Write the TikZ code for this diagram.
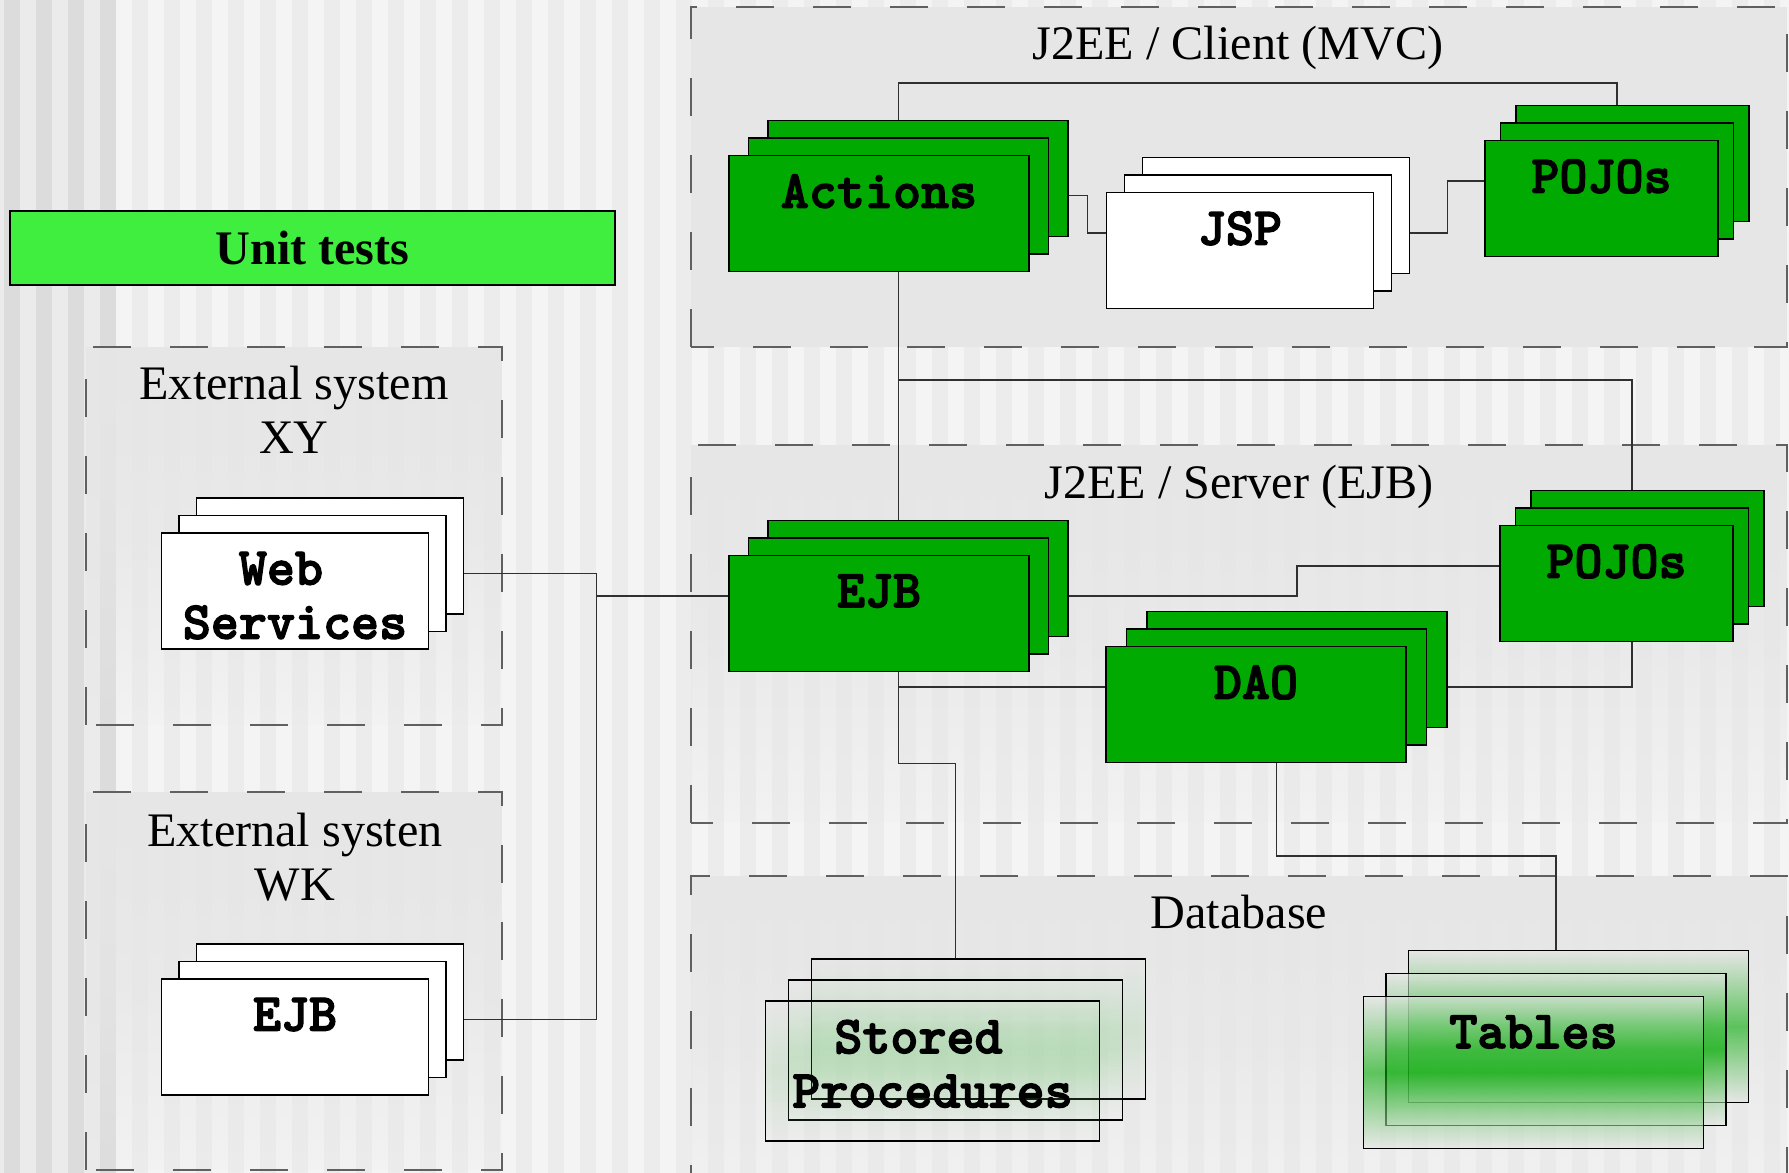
\documentclass[tikz,border=0pt]{standalone}
\usepackage{fontspec}
\setmainfont{Liberation Serif}
\newfontfamily\lblfont{lmmonolt10-bold.otf}[FakeBold=2.5]
\usetikzlibrary{calc,positioning,backgrounds,fadings}
\definecolor{boxgreen}{HTML}{00AA00}
\definecolor{unitgreen}{HTML}{40EE40}
\definecolor{panelgray}{HTML}{E6E6E6}
\definecolor{panelline}{HTML}{606060}
\definecolor{linkgray}{HTML}{303030}
\definecolor{stripea}{HTML}{F4F4F4}
\definecolor{stripeb}{HTML}{ECECEC}
\definecolor{stripec}{HTML}{EBEBEB}
\definecolor{striped}{HTML}{DCDCDC}
\tikzfading[name=panelfade, top color=transparent!0, bottom color=transparent!90, middle color=transparent!25]

\begin{document}
\begin{tikzpicture}[
	gbox/.style={draw, fill=boxgreen, minimum width=3cm, minimum height=1.16cm, inner sep=0},
	wbox/.style={gbox, fill=white},
	sbox/.style={draw, top color=panelgray, bottom color=panelgray, middle color=boxgreen, fill opacity=0.09, minimum width=3.34cm, minimum height=1.4cm, inner sep=0},
	tbox/.style={sbox, fill opacity=0.6, minimum width=3.4cm, minimum height=1.52cm},
	lbl/.style={font=\fontsize{15.2}{15.4}\selectfont\lblfont, align=center, inner sep=0},
	title/.style={font=\fontsize{13.7}{15.2}\selectfont, align=center, inner sep=0},
	unit/.style={draw, fill=unitgreen, minimum width=6.05cm, minimum height=0.74cm, font=\fontsize{13.7}{15.2}\selectfont\bfseries},
	panel/.style={draw=panelline, line width=0.45pt, dash pattern=on 0.38cm off 0.39cm},
	link/.style={draw=linkgray, line width=0.3pt}]
	\tikzset{every path/.style={line width=0.4pt}}
	\useasboundingbox (0,0) rectangle (17.89,11.73);

	\node [title] (mvct) at (12.38,11.25) {J2EE / Client (MVC)};
	\node [title] (ejbt) at (12.39,6.86) {J2EE / Server (EJB)};
	\node [title] (dbt) at (12.39,2.61) {Database};
	\node [title] (xyt) at (2.94,7.63) {External system\\XY};
	\node [title] (wkt) at (2.95,3.16) {External systen\\WK};
	\node [unit] (unit) at (3.125,9.25) {Unit tests};

	\node [gbox] (actionsb) at (9.18,9.945) {};
	\node [gbox] (actions) at ($(actionsb)+(-0.195,-0.175)$) {};
	\node [gbox] (actionsf) at ($(actions)+(-0.195,-0.175)$) {};
	\node [lbl, below=0.19cm of actionsf.north] (actionsl) {Actions};

	\node [wbox, minimum width=2.67cm] (jspb) at (12.76,9.575) {};
	\node [wbox, minimum width=2.67cm] (jsp) at ($(jspb)+(-0.18,-0.175)$) {};
	\node [wbox, minimum width=2.67cm] (jspf) at ($(jsp)+(-0.18,-0.175)$) {};
	\node [lbl, below=0.19cm of jspf.north] (jspl) {JSP};

	\node [gbox, minimum width=2.33cm] (pojocb) at (16.325,10.095) {};
	\node [gbox, minimum width=2.33cm] (pojoc) at ($(pojocb)+(-0.155,-0.175)$) {};
	\node [gbox, minimum width=2.33cm] (pojocf) at ($(pojoc)+(-0.155,-0.175)$) {};
	\node [lbl, below=0.19cm of pojocf.north] (pojocl) {POJOs};

	\node [gbox] (ejbb) at (9.18,5.945) {};
	\node [gbox] (ejb) at ($(ejbb)+(-0.195,-0.175)$) {};
	\node [gbox] (ejbf) at ($(ejb)+(-0.195,-0.175)$) {};
	\node [lbl, below=0.19cm of ejbf.north] (ejbl) {EJB};

	\node [gbox, minimum width=2.33cm] (pojosb) at (16.475,6.245) {};
	\node [gbox, minimum width=2.33cm] (pojos) at ($(pojosb)+(-0.155,-0.175)$) {};
	\node [gbox, minimum width=2.33cm] (pojosf) at ($(pojos)+(-0.155,-0.175)$) {};
	\node [lbl, below=0.19cm of pojosf.north] (pojosl) {POJOs};

	\node [gbox] (daob) at (12.97,5.035) {};
	\node [gbox] (dao) at ($(daob)+(-0.205,-0.175)$) {};
	\node [gbox] (daof) at ($(dao)+(-0.205,-0.175)$) {};
	\node [lbl, below=0.19cm of daof.north] (daol) {DAO};

	\node [sbox] (storedb) at (9.785,1.44) {};
	\node [sbox] (stored) at ($(storedb)+(-0.23,-0.21)$) {};
	\node [sbox] (storedf) at ($(stored)+(-0.23,-0.21)$) {};
	\node [lbl, below=0.19cm of storedf.north] (storedl) {Stored\hphantom{x}\\Procedures};

	\node [tbox] (tablesb) at (15.785,1.465) {};
	\node [tbox] (tables) at ($(tablesb)+(-0.225,-0.23)$) {};
	\node [tbox] (tablesf) at ($(tables)+(-0.225,-0.23)$) {};
	\node [lbl, below=0.19cm of tablesf.north] (tablesl) {Tables};

	\node [wbox, minimum width=2.67cm] (websvcb) at (3.30,6.17) {};
	\node [wbox, minimum width=2.67cm] (websvc) at ($(websvcb)+(-0.175,-0.175)$) {};
	\node [wbox, minimum width=2.67cm] (websvcf) at ($(websvc)+(-0.175,-0.175)$) {};
	\node [lbl, below=0.19cm of websvcf.north] (websvcl) {Web\hphantom{x}\\Services};

	\node [wbox, minimum width=2.67cm] (extejbb) at (3.30,1.71) {};
	\node [wbox, minimum width=2.67cm] (extejb) at ($(extejbb)+(-0.175,-0.175)$) {};
	\node [wbox, minimum width=2.67cm] (extejbf) at ($(extejb)+(-0.175,-0.175)$) {};
	\node [lbl, below=0.19cm of extejbf.north] (extejbl) {EJB};

	\coordinate (mvcbus) at (12,10.90);
	\coordinate (midbus) at (12,7.93);
	\coordinate (dbbus) at (14,3.17);
	\coordinate (extbus) at ($(websvcb.east)!0.5!(ejbf.west)$);

	\begin{scope}[on background layer]
		\fill [stripea] (0,0) rectangle (17.89,11.73);
		\foreach \i in {0,...,55}
			\fill [stripeb] ({0.04+0.32*\i},0) rectangle ++(0.16,11.73);
		\fill [stripec] (0,0) rectangle (1.16,11.73);
		\foreach \i in {0,...,3}
			\fill [striped] ({0.04+0.32*\i},0) rectangle ++(0.16,11.73);

		\fill [panelgray] (6.91,8.26) rectangle (17.87,11.66);
		\fill [panelgray, path fading=panelfade] (6.91,3.50) rectangle (17.87,7.28);
		\fill [panelgray, path fading=panelfade] (6.91,-0.3) rectangle (17.87,2.97);
		\fill [panelgray, path fading=panelfade] (0.86,4.48) rectangle (5.02,8.26);
		\fill [panelgray, path fading=panelfade] (0.86,0.03) rectangle (5.02,3.81);
		\draw [panel] (6.91,8.26) rectangle (17.87,11.66);
		\draw [panel] (6.91,3.50) rectangle (17.87,7.28);
		\draw [panel] (6.91,-0.3) rectangle (17.87,2.97);
		\draw [panel] (0.86,4.48) rectangle (5.02,8.26);
		\draw [panel] (0.86,0.03) rectangle (5.02,3.81);

		\draw [link] (actions) |- (mvcbus) -| (pojoc);
		\draw [link] (actions) -| ($(actionsb.east)!0.5!(jspf.west)$) |- (jsp);
		\draw [link] (jsp) -| ($(jspb.east)!0.5!(pojocf.west)$) |- (pojoc);
		\draw [link] (actions) -- (ejb);
		\draw [link] (actions) |- (midbus) -| (pojos);
		\draw [link] (ejb) -| (daob |- pojos) -- (pojos);
		\draw [link] (ejb) |- (dao);
		\draw [link] (dao) -| (pojos);
		\draw [link] (ejb) |- (stored |- daof.south) -- (stored |- storedb.north);
		\draw [link] (dao) |- (dbbus) -| (tables |- tablesb.north);
		\draw [link] (websvc) -| (extbus) |- (ejb);
		\draw [link] (extejb) -| (extbus);
	\end{scope}
\end{tikzpicture}
\end{document}
